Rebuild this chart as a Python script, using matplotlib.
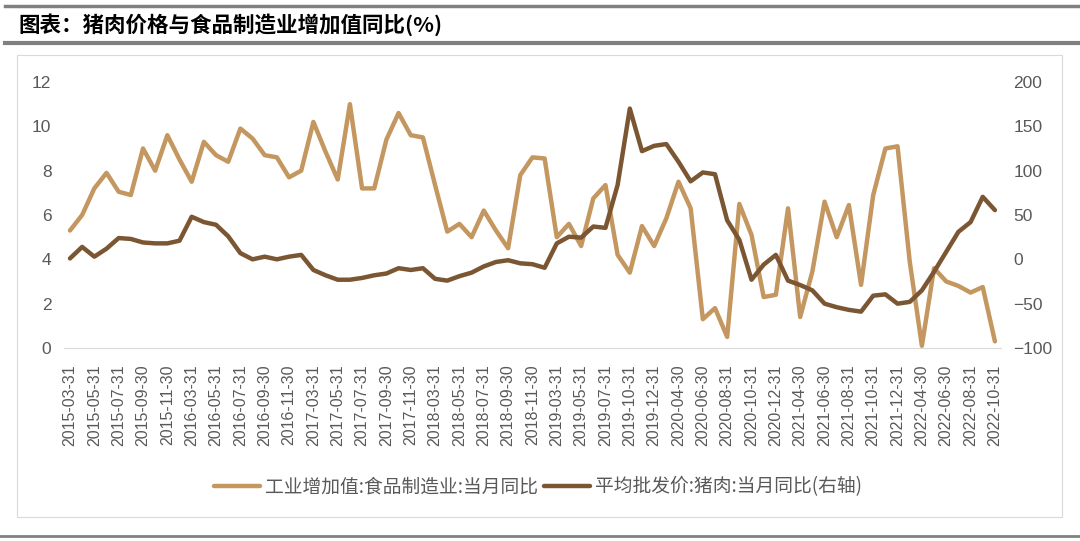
import calendar
import numpy as np
import matplotlib
matplotlib.use('Agg')
import matplotlib.pyplot as plt
from matplotlib.lines import Line2D
from matplotlib.patches import Rectangle

plt.rcParams['font.family'] = ['Noto Sans CJK SC', 'DejaVu Sans']

# 月度日期：每年 1、2 月无当月值，2019-08 缺失
dates = []
for y in range(2015, 2023):
    for m in range(3, 13):
        if (y, m) == (2019, 8) or (y == 2022 and m > 10):
            continue
        dates.append(f'{y}-{m:02d}-{calendar.monthrange(y, m)[1]:02d}')

# 工业增加值:食品制造业:当月同比 (%)，左轴
food_yoy = [
    5.3, 6.0, 7.2, 7.9, 7.05, 6.9, 9.0, 8.0, 9.6, 8.5,
    7.5, 9.3, 8.7, 8.4, 9.9, 9.45, 8.7, 8.6, 7.7, 8.0,
    10.2, 8.85, 7.6, 11.0, 7.2, 7.2, 9.4, 10.6, 9.6, 9.5,
    7.35, 5.25, 5.6, 5.0, 6.2, 5.3, 4.5, 7.8, 8.6, 8.55,
    5.0, 5.6, 4.6, 6.75, 7.35, 4.2, 3.4, 5.5, 4.6, 5.85,
    7.5, 6.3, 1.3, 1.8, 0.5, 6.5, 5.1, 2.3, 2.4, 6.3,
    1.4, 3.45, 6.6, 5.0, 6.45, 2.85, 6.9, 9.0, 9.1, 3.9,
    0.1, 3.6, 3.0, 2.8, 2.5, 2.75, 0.3,
]

# 平均批发价:猪肉:当月同比 (%)，右轴
pork_yoy = [
    1, 14, 3, 12, 24, 23, 19, 18, 18, 21,
    48, 42, 39, 26, 7, 0, 3, 0, 3, 5,
    -12, -18, -23, -23, -21, -18, -16, -10, -12, -10,
    -22, -24, -19, -15, -8, -3, -1, -4.5, -5.5, -9.5,
    18, 25.5, 24.5, 37, 35.5, 84, 170, 122, 128, 130,
    110, 88, 98, 96, 44, 22, -23, -6, 5, -24,
    -29, -35, -50, -54, -57, -59, -41, -39.5, -50, -48,
    -35, -14, 8.5, 31, 42, 70.5, 55.5,
]

tick_labels = dates[::2]
left_ticks = [0, 2, 4, 6, 8, 10, 12]
right_ticks = [-100, -50, 0, 50, 100, 150, 200]

LIGHT = '#C49760'
DARK = '#7B5633'
GREY = '#595959'
NUM_FONT = 'Liberation Sans'

fig = plt.figure(figsize=(10.8, 5.41), dpi=100)

# 标题栏与外框
fig.add_artist(Line2D([5 / 1080, 1], [1 - 6 / 541] * 2, color='#808080', lw=2.5))
fig.add_artist(Line2D([5 / 1080, 1], [1 - 42.5 / 541] * 2, color='#808080', lw=3))
fig.add_artist(Line2D([0, 1], [1 - 536 / 541] * 2, color='#808080', lw=2))
fig.text(18 / 1080, 1 - 25 / 541, '图表：猪肉价格与食品制造业增加值同比(%)',
         fontsize=15.5, fontweight='bold', va='center', ha='left', color='black')
fig.add_artist(Rectangle((17 / 1080, 1 - 517 / 541), (1062 - 17) / 1080, (517 - 55) / 541,
                         fill=False, edgecolor='#d9d9d9', lw=0.8))

ax = fig.add_axes([63.9 / 1080, 1 - 348 / 541, (1001 - 63.9) / 1080, (348 - 82) / 541])
ax2 = ax.twinx()

x = np.arange(len(dates))
l1, = ax.plot(x, food_yoy, color=LIGHT, lw=3.2, solid_joinstyle='round',
              solid_capstyle='round', label='工业增加值:食品制造业:当月同比')
l2, = ax2.plot(x, pork_yoy, color=DARK, lw=3.2, solid_joinstyle='round',
               solid_capstyle='round', label='平均批发价:猪肉:当月同比(右轴)')

ax.set_xlim(-0.5, len(dates) - 0.5)
ax.set_ylim(0, 12)
ax2.set_ylim(-100, 200)
ax.set_yticks(left_ticks)
ax2.set_yticks(right_ticks)
ax.set_xticks(x[::2])
ax.set_xticklabels(tick_labels, rotation=90)

for a in (ax, ax2):
    for s in a.spines.values():
        s.set_visible(False)
    a.tick_params(length=0, colors=GREY)
ax.spines['bottom'].set_visible(True)
ax.spines['bottom'].set_color('#d9d9d9')
ax.tick_params(axis='x', pad=12, labelsize=11.5)
ax.tick_params(axis='y', pad=9, labelsize=12.5)
ax2.tick_params(axis='y', pad=9, labelsize=12.5)
for lab in ax.get_xticklabels() + ax.get_yticklabels() + ax2.get_yticklabels():
    lab.set_fontfamily(NUM_FONT)

fig.legend(handles=[l1, l2], loc='center', bbox_to_anchor=(538 / 1080, 1 - 487 / 541),
           ncol=2, frameon=False, fontsize=13.5, labelcolor=GREY,
           handlelength=2.45, handletextpad=0.25, columnspacing=0.35)

fig.savefig('out.png', dpi=100)
